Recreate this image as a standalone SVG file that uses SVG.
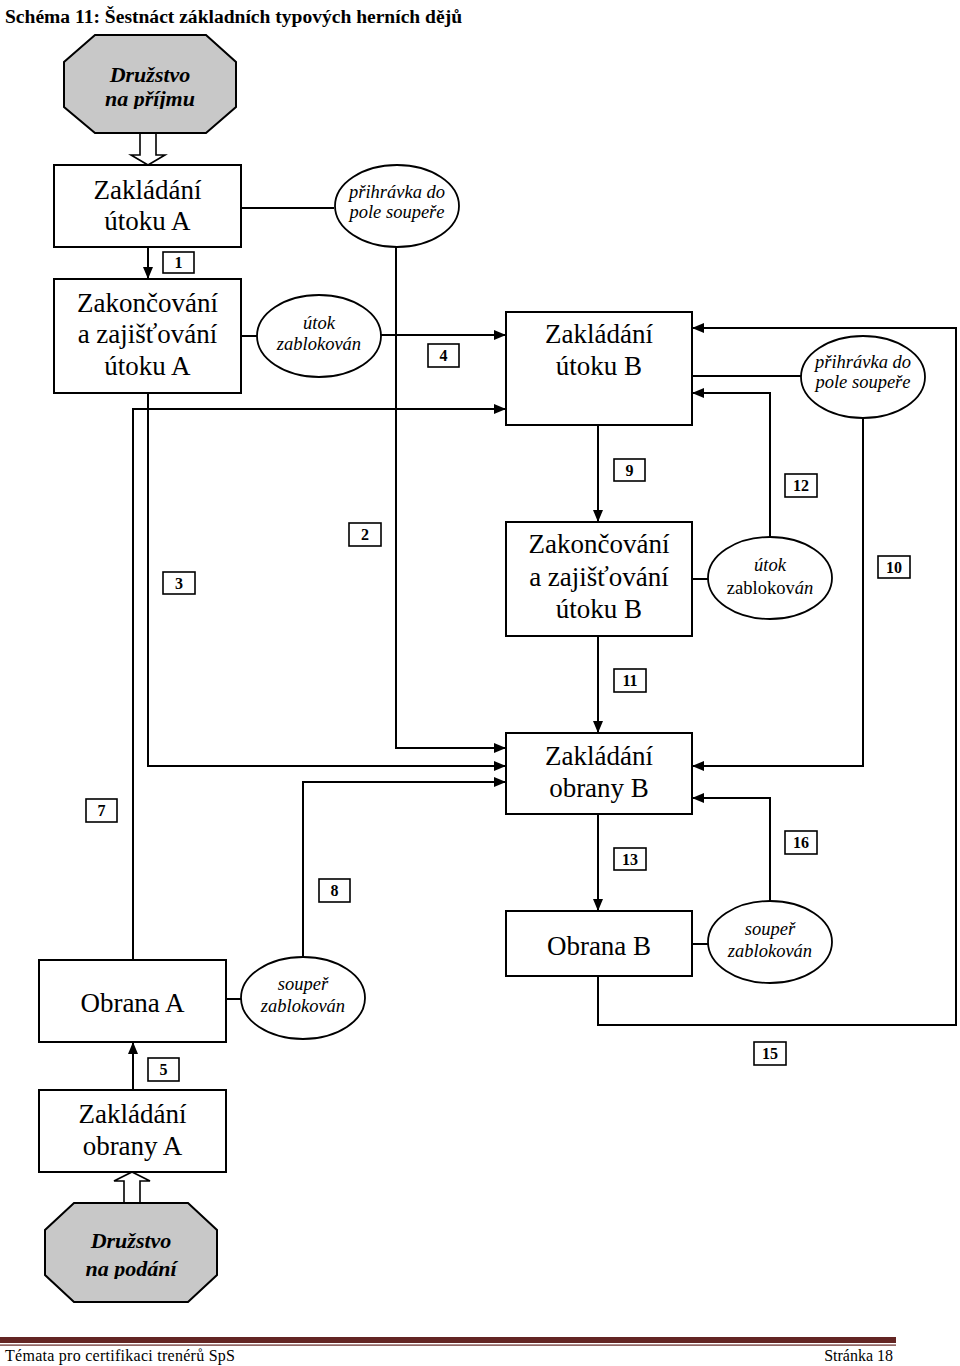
<svg xmlns="http://www.w3.org/2000/svg" width="960" height="1366" viewBox="0 0 960 1366">
<style>
.box{fill:#fff;stroke:#000;stroke-width:2}
.ell{fill:#fff;stroke:#000;stroke-width:1.8}
.oct{fill:#c8c8c8;stroke:#000;stroke-width:2}
.ln{fill:none;stroke:#000;stroke-width:2}
.arr{fill:none;stroke:#000;stroke-width:2;marker-end:url(#ah)}
.t{font-family:"Liberation Serif",serif;font-size:27px;text-anchor:middle;fill:#000}
.e{font-family:"Liberation Serif",serif;font-size:18.5px;font-style:italic;text-anchor:middle;fill:#000}
.o{font-family:"Liberation Serif",serif;font-size:22px;font-style:italic;font-weight:bold;text-anchor:middle;fill:#000}
.lb{fill:#fff;stroke:#000;stroke-width:1.6}
.n{font-family:"Liberation Serif",serif;font-size:16px;font-weight:bold;text-anchor:middle;fill:#000}
.hol{fill:#fff;stroke:#000;stroke-width:1.6}
</style>
<defs>
<marker id="ah" markerUnits="userSpaceOnUse" markerWidth="12" markerHeight="10" refX="12" refY="5" orient="auto">
<path d="M0,0 L12,5 L0,10 z" fill="#000"/>
</marker>
<clipPath id="c1"><rect x="60" y="35" width="180" height="74"/></clipPath>
<clipPath id="c2"><rect x="40" y="1203" width="180" height="76"/></clipPath>
</defs>
<rect width="960" height="1366" fill="#fff"/>
<text x="5" y="23" font-family="'Liberation Serif',serif" font-size="18.5" font-weight="bold" textLength="457" lengthAdjust="spacingAndGlyphs">Schéma 11: Šestnáct základních typových herních dějů</text>

<g id="connectors">
<line class="ln" x1="241" y1="208" x2="334" y2="208"/>
<line class="ln" x1="241" y1="336" x2="257" y2="336"/>
<line class="ln" x1="692" y1="376" x2="801" y2="376"/>
<line class="ln" x1="692" y1="579" x2="708" y2="579"/>
<line class="ln" x1="692" y1="944" x2="708" y2="944"/>
<line class="ln" x1="226" y1="999" x2="241" y2="999"/>
<polyline class="arr" points="148,247 148,279"/>
<polyline class="arr" points="381,335 506,335"/>
<polyline class="arr" points="396,247 396,748 506,748"/>
<polyline class="arr" points="148,393 148,766 506,766"/>
<polyline class="arr" points="133,960 133,409 506,409"/>
<polyline class="arr" points="303,957 303,782 506,782"/>
<polyline class="arr" points="133,1090 133,1042"/>
<polyline class="arr" points="598,425 598,522"/>
<polyline class="arr" points="863,418 863,766 692,766"/>
<polyline class="arr" points="770,538 770,393 692,393"/>
<polyline class="arr" points="598,636 598,733"/>
<polyline class="arr" points="598,814 598,911"/>
<polyline class="arr" points="770,902 770,798 692,798"/>
<polyline class="arr" points="598,976 598,1025 956,1025 956,328 692,328"/>
<polygon class="hol" points="140,133 140,155 131,155 148,165 165,155 156,155 156,133"/>
<polygon class="hol" points="124,1203 124,1181 114,1181 132,1172 150,1181 140,1181 140,1203"/>
</g>

<g id="labels">
<rect class="lb" x="163" y="252" width="31" height="21"/><text class="n" x="178.5" y="268">1</text>
<rect class="lb" x="349" y="523" width="32" height="23"/><text class="n" x="365" y="540">2</text>
<rect class="lb" x="163" y="572" width="32" height="22"/><text class="n" x="179" y="589">3</text>
<rect class="lb" x="428" y="344" width="31" height="23"/><text class="n" x="443.5" y="361">4</text>
<rect class="lb" x="148" y="1058" width="31" height="23"/><text class="n" x="163.5" y="1075">5</text>
<rect class="lb" x="86" y="799" width="31" height="23"/><text class="n" x="101.5" y="816">7</text>
<rect class="lb" x="319" y="879" width="31" height="23"/><text class="n" x="334.5" y="896">8</text>
<rect class="lb" x="614" y="459" width="31" height="22"/><text class="n" x="629.5" y="476">9</text>
<rect class="lb" x="878" y="556" width="32" height="22"/><text class="n" x="894" y="573">10</text>
<rect class="lb" x="614" y="669" width="32" height="23"/><text class="n" x="630" y="686">11</text>
<rect class="lb" x="785" y="474" width="32" height="23"/><text class="n" x="801" y="491">12</text>
<rect class="lb" x="614" y="848" width="32" height="22"/><text class="n" x="630" y="865">13</text>
<rect class="lb" x="754" y="1042" width="32" height="23"/><text class="n" x="770" y="1059">15</text>
<rect class="lb" x="785" y="831" width="32" height="23"/><text class="n" x="801" y="848">16</text>
</g>

<g id="team-receive">
<polygon class="oct" points="95,35 206,35 236,62 236,107 206,133 95,133 64,107 64,62"/>
<g clip-path="url(#c1)">
<text class="o" x="150" y="82">Družstvo</text>
<text class="o" x="150" y="106">na příjmu</text>
</g>
</g>

<g id="zakladani-utoku-a">
<rect class="box" x="54" y="165" width="187" height="82"/>
<text class="t" x="147.5" y="199">Zakládání</text>
<text class="t" x="147.5" y="230">útoku A</text>
</g>

<g id="prihravka-a">
<ellipse class="ell" cx="397" cy="206" rx="62" ry="41"/>
<text class="e" x="397" y="198">přihrávka do</text>
<text class="e" x="397" y="218">pole soupeře</text>
</g>

<g id="zakoncovani-a">
<rect class="box" x="54" y="279" width="187" height="114"/>
<text class="t" x="147.5" y="312">Zakončování</text>
<text class="t" x="147.5" y="343">a zajišťování</text>
<text class="t" x="147.5" y="375">útoku A</text>
</g>

<g id="utok-zablokovan-a">
<ellipse class="ell" cx="319" cy="336" rx="62" ry="41"/>
<text class="e" x="319" y="329">útok</text>
<text class="e" x="319" y="350">zablokován</text>
</g>

<g id="zakladani-utoku-b">
<rect class="box" x="506" y="312" width="186" height="113"/>
<text class="t" x="599" y="343">Zakládání</text>
<text class="t" x="599" y="375">útoku B</text>
</g>

<g id="prihravka-b">
<ellipse class="ell" cx="863" cy="377" rx="62" ry="41"/>
<text class="e" x="863" y="368">přihrávka do</text>
<text class="e" x="863" y="388">pole soupeře</text>
</g>

<g id="zakoncovani-b">
<rect class="box" x="506" y="522" width="186" height="114"/>
<text class="t" x="599" y="553">Zakončování</text>
<text class="t" x="599" y="586">a zajišťování</text>
<text class="t" x="599" y="618">útoku B</text>
</g>

<g id="utok-zablokovan-b">
<ellipse class="ell" cx="770" cy="578" rx="62" ry="41"/>
<text class="e" x="770" y="571">útok</text>
<text class="e" x="770" y="594"><tspan font-style="normal">zablokov</tspan>án</text>
</g>

<g id="zakladani-obrany-b">
<rect class="box" x="506" y="733" width="186" height="81"/>
<text class="t" x="599" y="765">Zakládání</text>
<text class="t" x="599" y="797">obrany B</text>
</g>

<g id="obrana-b">
<rect class="box" x="506" y="911" width="186" height="65"/>
<text class="t" x="599" y="955">Obrana B</text>
</g>

<g id="souper-zablokovan-b">
<ellipse class="ell" cx="770" cy="942" rx="62" ry="41"/>
<text class="e" x="770" y="935">soupeř</text>
<text class="e" x="770" y="957">zablokován</text>
</g>

<g id="obrana-a">
<rect class="box" x="39" y="960" width="187" height="82"/>
<text class="t" x="132.5" y="1012">Obrana A</text>
</g>

<g id="souper-zablokovan-a">
<ellipse class="ell" cx="303" cy="998" rx="62" ry="41"/>
<text class="e" x="303" y="990">soupeř</text>
<text class="e" x="303" y="1012">zablokován</text>
</g>

<g id="zakladani-obrany-a">
<rect class="box" x="39" y="1090" width="187" height="82"/>
<text class="t" x="132.5" y="1123">Zakládání</text>
<text class="t" x="132.5" y="1155">obrany A</text>
</g>

<g id="team-serve">
<polygon class="oct" points="74,1203 188,1203 217,1230 217,1275 188,1302 74,1302 45,1275 45,1230"/>
<g clip-path="url(#c2)">
<text class="o" x="131" y="1248">Družstvo</text>
<text class="o" x="131" y="1276">na podání</text>
</g>
</g>

<g id="footer">
<rect x="0" y="1337" width="896" height="6" fill="#632523"/>
<rect x="0" y="1344.5" width="896" height="1.2" fill="#632523"/>
<text x="5" y="1361" font-family="'Liberation Serif',serif" font-size="16" textLength="230" lengthAdjust="spacing" fill="#000">Témata pro certifikaci trenérů SpS</text>
<text x="893" y="1361" font-family="'Liberation Serif',serif" font-size="16" text-anchor="end" fill="#000">Stránka 18</text>
</g>
</svg>
